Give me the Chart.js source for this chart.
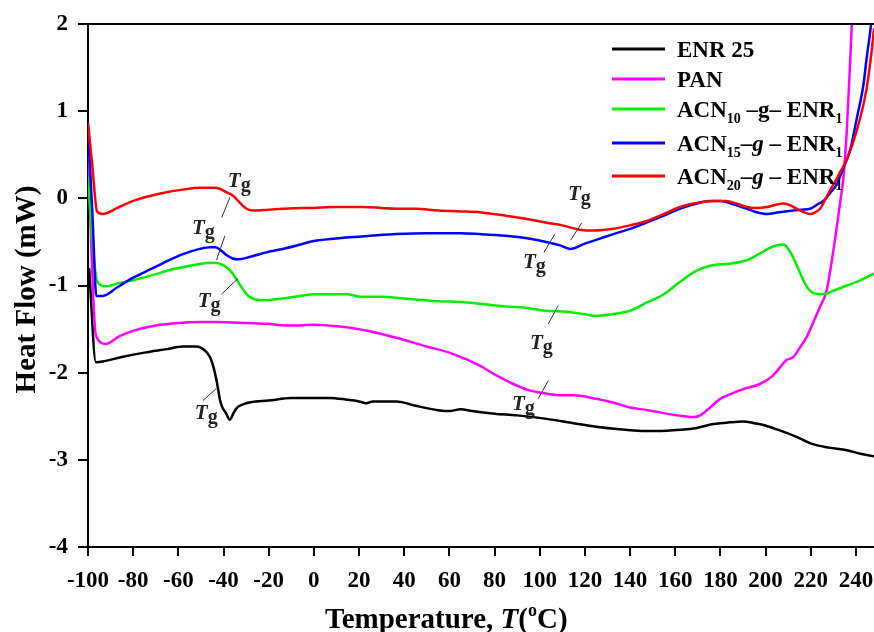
<!DOCTYPE html>
<html>
<head>
<meta charset="utf-8">
<script src="https://cdn.jsdelivr.net/npm/chart.js@4.4.1/dist/chart.umd.min.js"></script>
<style>
  body { margin: 0; background: #fff; }
  #myChart { display: block; }
</style>
</head>
<body>
<canvas id="myChart" width="874" height="632"></canvas>
<script>
// DSC curves, temperature (°C) vs heat flow (mW)
const enrTemp = [-99.5, -96.5, -93, -85, -75, -65, -58, -52, -48.5, -46, -44.5, -43, -41.5, -40.5, -39, -37.2, -35.5, -34, -31, -28, -20, -10, 0, 7, 14.5, 20, 23.3, 26, 30, 36.6, 45, 55, 60, 65, 70, 80, 90, 103, 115, 125, 140, 150, 159, 168, 177, 184, 190, 195, 199, 206, 214, 221, 228, 236, 242, 248];
const enrFlow = [-0.80, -1.88, -1.87, -1.82, -1.77, -1.73, -1.70, -1.70, -1.74, -1.82, -1.93, -2.10, -2.32, -2.40, -2.46, -2.54, -2.46, -2.40, -2.36, -2.34, -2.32, -2.29, -2.29, -2.29, -2.31, -2.33, -2.35, -2.33, -2.33, -2.33, -2.38, -2.43, -2.44, -2.42, -2.44, -2.47, -2.49, -2.53, -2.58, -2.62, -2.66, -2.67, -2.66, -2.64, -2.59, -2.57, -2.56, -2.58, -2.60, -2.66, -2.74, -2.82, -2.86, -2.89, -2.93, -2.96];

const panTemp = [-100, -96.5, -92, -86, -80, -70, -60, -50, -43, -30, -21, -10, 0, 14.5, 29, 36.6, 50, 60, 73.5, 80, 88.3, 95, 103, 110, 115, 125, 132, 140, 148, 156, 164, 168, 171, 175, 180, 185, 190, 197.5, 203, 206.4, 209, 212.3, 215, 218.2, 221, 224, 227, 230, 233, 234.5, 236, 237.5, 238.5];
const panFlow = [0.50, -1.57, -1.67, -1.58, -1.52, -1.46, -1.43, -1.42, -1.42, -1.43, -1.44, -1.46, -1.45, -1.48, -1.55, -1.60, -1.70, -1.77, -1.92, -2.02, -2.13, -2.20, -2.24, -2.26, -2.26, -2.30, -2.34, -2.40, -2.43, -2.47, -2.50, -2.51, -2.49, -2.41, -2.30, -2.24, -2.19, -2.13, -2.04, -1.94, -1.86, -1.82, -1.72, -1.59, -1.43, -1.25, -1.06, -0.60, -0.05, 0.25, 0.80, 1.60, 2.20];

const acn10Temp = [-100, -98, -96, -92, -86, -80, -70, -65, -58, -50, -44, -40, -37, -34.5, -32, -29, -26, -22, -14, -6, 0, 8, 14.5, 21, 30, 36.6, 45, 55, 65, 73.5, 85, 95, 103, 112, 120, 125, 132, 140, 147, 155, 162, 169.5, 176, 184, 191.7, 197, 203.5, 207.9, 211, 214, 216.7, 219, 221.5, 225.5, 230, 236, 242, 248];
const acn10Flow = [0.25, -0.50, -0.95, -1.01, -0.97, -0.94, -0.87, -0.83, -0.79, -0.75, -0.74, -0.77, -0.83, -0.92, -1.02, -1.12, -1.16, -1.17, -1.15, -1.12, -1.10, -1.10, -1.10, -1.13, -1.13, -1.14, -1.16, -1.18, -1.19, -1.21, -1.24, -1.26, -1.29, -1.30, -1.33, -1.35, -1.33, -1.29, -1.20, -1.10, -0.96, -0.83, -0.77, -0.75, -0.71, -0.64, -0.55, -0.53, -0.62, -0.78, -0.94, -1.04, -1.09, -1.10, -1.06, -1.00, -0.94, -0.86];

const acn15Temp = [-100, -98, -96.3, -93.4, -87, -80, -72, -65, -58, -50.5, -46, -43.5, -41, -38.7, -36, -33.6, -28, -21, -12, -6, 0, 14.5, 25, 36.6, 50, 65, 73.5, 85, 95, 103, 109, 113.4, 120, 127, 132.6, 140, 147, 154.7, 162, 169.5, 175, 180, 186, 191.7, 196, 200.5, 206, 212.3, 216, 219.7, 223, 225.6, 228.5, 231.5, 234, 237.4, 240.4, 243.3, 244.8, 246.5, 247.5];
const acn15Flow = [0.80, -0.20, -1.12, -1.12, -1.02, -0.91, -0.81, -0.72, -0.64, -0.58, -0.56, -0.56, -0.60, -0.65, -0.69, -0.70, -0.67, -0.62, -0.57, -0.53, -0.49, -0.45, -0.43, -0.41, -0.40, -0.40, -0.41, -0.43, -0.46, -0.50, -0.54, -0.58, -0.52, -0.46, -0.41, -0.35, -0.28, -0.20, -0.12, -0.06, -0.03, -0.03, -0.07, -0.12, -0.16, -0.18, -0.16, -0.14, -0.13, -0.12, -0.07, -0.03, 0.06, 0.16, 0.32, 0.55, 0.92, 1.30, 1.62, 1.95, 2.20];

const acn20Temp = [-100, -98, -96, -93.4, -87, -80, -72, -65.3, -58, -50.5, -44, -41.7, -38.7, -35.8, -32.8, -29.8, -26.9, -20, -13.6, -6, 0, 7.1, 14, 21.8, 30, 36.6, 45, 55, 65, 73.5, 85, 95, 103, 110, 117.8, 124, 132.6, 140, 147.4, 155, 162, 170, 176.9, 182.8, 187, 191.7, 196, 200.5, 205, 207.9, 211, 213.8, 217, 219.7, 222, 224.1, 226.5, 228.5, 231, 233, 236, 240.4, 244.8, 247, 248];
const acn20Flow = [0.87, 0.35, -0.15, -0.18, -0.11, -0.03, 0.03, 0.07, 0.10, 0.12, 0.12, 0.11, 0.07, 0.03, -0.05, -0.12, -0.14, -0.13, -0.12, -0.11, -0.11, -0.10, -0.10, -0.10, -0.11, -0.12, -0.12, -0.14, -0.15, -0.16, -0.20, -0.24, -0.28, -0.31, -0.36, -0.37, -0.35, -0.31, -0.26, -0.18, -0.10, -0.05, -0.03, -0.03, -0.06, -0.10, -0.11, -0.10, -0.07, -0.06, -0.08, -0.12, -0.16, -0.18, -0.16, -0.12, -0.01, 0.09, 0.20, 0.30, 0.45, 0.78, 1.27, 1.70, 1.95];

// Tg markers: label position [x, y] and leader line [x1, y1, x2, y2], in data units
const tgText = [[-38.1, 0.08], [-54.0, -0.45], [-51.4, -1.29], [-52.7, -2.58], [112.5, -0.06], [92.6, -0.85], [95.7, -1.77], [87.7, -2.47]];
const tgLine = [[-37.2, 0.01, -40.8, -0.22], [-39.4, -0.43, -43.1, -0.71], [-40.9, -1.10, -33.6, -0.92], [-49.1, -2.32, -43.1, -2.18], [118.6, -0.28, 113.7, -0.48], [106.7, -0.41, 101.9, -0.62], [108.2, -1.23, 103.8, -1.44], [103.8, -2.09, 99.3, -2.30]];

const serif = '"Liberation Serif", "Times New Roman", serif';

function pts(t, v) {
    return t.map(function(x, i) { return { x: x, y: v[i] }; });
}

// draw a run of text pieces (normal / italic / sub / sup), returns end x
function drawParts(ctx, x, y, size, parts) {
    parts.forEach(function(p) {
        const s = p.sub || p.sup ? Math.round(size * 0.62) : size;
        ctx.font = (p.it ? 'italic ' : '') + 'bold ' + s + 'px ' + serif;
        const dy = p.sub ? size * 0.25 : (p.sup ? -size * 0.42 : 0);
        ctx.fillText(p.t, x, y + dy);
        x += ctx.measureText(p.t).width;
    });
    return x;
}

const legendRows = [
    { color: '#000000', y: 49, parts: [{ t: 'ENR 25' }] },
    { color: '#ff00ff', y: 79, parts: [{ t: 'PAN' }] },
    { color: '#00ee00', y: 109, parts: [{ t: 'ACN' }, { t: '10', sub: true }, { t: ' \u2013g\u2013 ENR' }, { t: '1', sub: true }] },
    { color: '#0000ff', y: 143, parts: [{ t: 'ACN' }, { t: '15', sub: true }, { t: '\u2013' }, { t: 'g', it: true }, { t: ' \u2013 ENR' }, { t: '1', sub: true }] },
    { color: '#ff0000', y: 176, parts: [{ t: 'ACN' }, { t: '20', sub: true }, { t: '\u2013' }, { t: 'g', it: true }, { t: ' \u2013 ENR' }, { t: '1', sub: true }] }
];

const deco = {
    id: 'deco',
    afterDraw: function(chart) {
        const ctx = chart.ctx;
        const a = chart.chartArea;
        const xs = chart.scales.x;
        const ys = chart.scales.y;
        ctx.save();

        // top frame line
        ctx.strokeStyle = '#000';
        ctx.lineWidth = 2;
        ctx.beginPath();
        ctx.moveTo(a.left - 1, a.top);
        ctx.lineTo(a.right, a.top);
        ctx.stroke();

        // Tg labels
        ctx.strokeStyle = '#333';
        ctx.lineWidth = 1;
        ctx.fillStyle = '#222';
        ctx.textBaseline = 'alphabetic';
        ctx.textAlign = 'left';
        for (let i = 0; i < tgText.length; i++) {
            const l = tgLine[i];
            ctx.beginPath();
            ctx.moveTo(xs.getPixelForValue(l[0]), ys.getPixelForValue(l[1]));
            ctx.lineTo(xs.getPixelForValue(l[2]), ys.getPixelForValue(l[3]));
            ctx.stroke();
            const tx = xs.getPixelForValue(tgText[i][0]);
            const ty = ys.getPixelForValue(tgText[i][1]);
            ctx.font = 'italic bold 21px ' + serif;
            ctx.fillText('T', tx, ty - 4);
            const w = ctx.measureText('T').width;
            ctx.font = 'bold 20px ' + serif;
            ctx.fillText('g', tx + w, ty);
        }

        // legend
        ctx.fillStyle = '#000';
        legendRows.forEach(function(r) {
            ctx.strokeStyle = r.color;
            ctx.lineWidth = 3;
            ctx.beginPath();
            ctx.moveTo(612, r.y);
            ctx.lineTo(665, r.y);
            ctx.stroke();
            drawParts(ctx, 677, r.y + 8, 23, r.parts);
        });

        // axis titles
        drawParts(ctx, 325, 628, 29, [{ t: 'Temperature, ' }, { t: 'T', it: true }, { t: '(' }, { t: 'o', sup: true }, { t: 'C)' }]);
        ctx.translate(35, (a.top + a.bottom) / 2 + 4);
        ctx.rotate(-Math.PI / 2);
        ctx.textAlign = 'center';
        ctx.font = 'bold 29px ' + serif;
        ctx.fillText('Heat Flow (mW)', 0, 0);
        ctx.restore();
    }
};

function serie(label, t, v, color, order) {
    return {
        label: label,
        data: pts(t, v),
        borderColor: color,
        backgroundColor: color,
        borderWidth: 2.5,
        pointRadius: 0,
        cubicInterpolationMode: 'monotone',
        order: order
    };
}

const ctx = document.getElementById('myChart').getContext('2d');
const myChart = new Chart(ctx, {
    type: 'line',
    data: {
        datasets: [
            serie('ENR 25', enrTemp, enrFlow, '#000000', 4),
            serie('PAN', panTemp, panFlow, '#ff00ff', 3),
            serie('ACN10-g-ENR1', acn10Temp, acn10Flow, '#00ee00', 2),
            serie('ACN15-g-ENR1', acn15Temp, acn15Flow, '#0000ff', 1),
            serie('ACN20-g-ENR1', acn20Temp, acn20Flow, '#ff0000', 0)
        ]
    },
    options: {
        responsive: false,
        animation: false,
        layout: { padding: { top: 24, right: 0, bottom: 0, left: 0 } },
        plugins: {
            legend: { display: false },
            tooltip: { enabled: false }
        },
        scales: {
            x: {
                type: 'linear',
                min: -100,
                max: 248,
                afterFit: function(s) { s.height = 85; s.paddingLeft = 0; s.paddingRight = 0; },
                border: { display: true, color: '#000', width: 2 },
                grid: { drawOnChartArea: false, drawTicks: true, tickLength: 9, color: '#000', lineWidth: 2 },
                ticks: {
                    stepSize: 20,
                    includeBounds: false,
                    autoSkip: false,
                    maxRotation: 0,
                    padding: 11,
                    color: '#000',
                    font: { family: serif, weight: 'bold', size: 23 }
                }
            },
            y: {
                min: -4,
                max: 2,
                afterFit: function(s) { s.width = 88; },
                border: { display: true, color: '#000', width: 2 },
                grid: { drawOnChartArea: false, drawTicks: true, tickLength: 10, color: '#000', lineWidth: 2 },
                ticks: {
                    stepSize: 1,
                    padding: 10,
                    color: '#000',
                    font: { family: serif, weight: 'bold', size: 23 }
                }
            }
        }
    },
    plugins: [deco]
});
</script>
</body>
</html>
